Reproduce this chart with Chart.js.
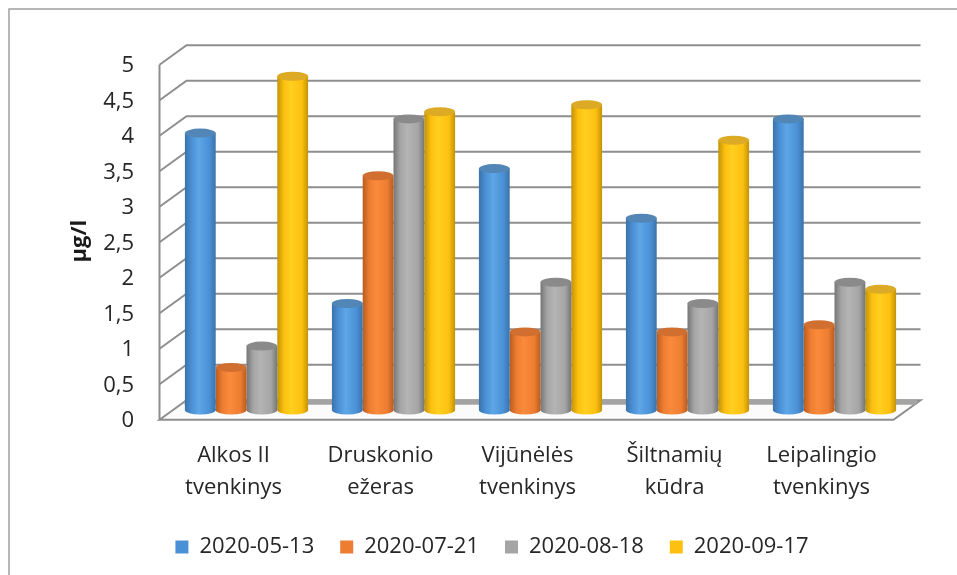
<!DOCTYPE html>
<html>
<head>
<meta charset="utf-8">
<title>µg/l</title>
<script src="https://cdn.jsdelivr.net/npm/chart.js@4/dist/chart.umd.min.js"></script>
<style>
  html, body { margin: 0; padding: 0; background: #fff; }
  canvas { display: block; }
</style>
</head>
<body>
<canvas id="chart" width="957" height="575"></canvas>
<script>
const categories = [
  ["Alkos II", "tvenkinys"],
  ["Druskonio", "ežeras"],
  ["Vijūnėlės", "tvenkinys"],
  ["Šiltnamių", "kūdra"],
  ["Leipalingio", "tvenkinys"],
];
const dates = ["2020-05-13", "2020-07-21", "2020-08-18", "2020-09-17"];
const series0513 = [3.9, 1.5, 3.4, 2.7, 4.1];
const series0721 = [0.6, 3.3, 1.1, 1.1, 1.2];
const series0818 = [0.9, 4.1, 1.8, 1.5, 1.8];
const series0917 = [4.7, 4.2, 4.3, 3.8, 1.7];
const allSeries = [series0513, series0721, series0818, series0917];

// edge / light / cap shades of each cylinder
const shades = [
  { main: "#4a90d6", edge: "#3c72a8", light: "#5ea6e6", cap: "#5286b6" },
  { main: "#ed7d31", edge: "#b85c20", light: "#fb8a3c", cap: "#d06f30" },
  { main: "#a5a5a5", edge: "#757575", light: "#b4b4b4", cap: "#8a8a8a" },
  { main: "#fdc010", edge: "#c29306", light: "#ffcf1f", cap: "#dcaa24" },
];

const depthX = 13.5;
const depthY = 9.75;
const wallColor = "#8e8e8e";
const fontFamily = "'Open Sans', Lato, sans-serif";

function cylinderFill(c, bx, half, i) {
  const g = c.createLinearGradient(bx - half, 0, bx + half, 0);
  g.addColorStop(0, shades[i].edge);
  g.addColorStop(0.22, shades[i].main);
  g.addColorStop(0.45, shades[i].light);
  g.addColorStop(0.8, shades[i].main);
  g.addColorStop(1, shades[i].edge);
  return g;
}

// frame, 3D-looking walls and floor, and the cylinder shading of the bars
const wallsPlugin = {
  id: "walls",
  afterLayout(chart) {
    // the legend sits right of the canvas centre in the original
    chart.legend.left += 22;
    chart.legend.right += 22;
  },
  beforeDraw(chart) {
    const c = chart.ctx;
    c.save();
    c.strokeStyle = "#a0a0a0";
    c.lineWidth = 1.5;
    c.beginPath();
    c.moveTo(9, 575);
    c.lineTo(9, 9);
    c.lineTo(957, 9);
    c.stroke();
    c.restore();
  },
  beforeDatasetsDraw(chart) {
    const c = chart.ctx;
    const { x, y } = chart.scales;
    const frontL = x.left - depthX, backL = x.left + depthX;
    const backR = x.right + depthX - 1, frontR = x.right - depthX - 1;
    c.save();
    c.strokeStyle = wallColor;
    c.lineWidth = 2;
    y.ticks.forEach((t) => {
      const py = y.getPixelForValue(t.value);
      if (t.value === 0) return;
      c.beginPath();
      c.moveTo(frontL, py + depthY);
      c.lineTo(backL, py - depthY);
      c.lineTo(backR, py - depthY);
      c.stroke();
    });
    const y0 = y.getPixelForValue(0);
    const y5 = y.getPixelForValue(5);
    c.beginPath();
    c.moveTo(frontL, y5 + depthY);
    c.lineTo(frontL, y0 + depthY);
    c.stroke();
    // floor
    c.fillStyle = "#fbfbfb";
    c.beginPath();
    c.moveTo(frontL, y0 + depthY);
    c.lineTo(backL, y0 - depthY);
    c.lineTo(backR, y0 - depthY);
    c.lineTo(frontR, y0 + depthY);
    c.closePath();
    c.fill();
    c.stroke();
    c.lineWidth = 5;
    c.strokeStyle = "#a3a3a3";
    c.beginPath();
    c.moveTo(backL - 2, y0 - depthY + 2);
    c.lineTo(backR - 4, y0 - depthY + 2);
    c.stroke();
    c.restore();
  },
  beforeDatasetDraw(chart, args) {
    const c = chart.ctx;
    const i = args.index;
    args.meta.data.forEach((bar) => {
      const half = bar.width / 2;
      bar.options = { ...bar.options, backgroundColor: cylinderFill(c, bar.x, half, i) };
      c.fillStyle = bar.options.backgroundColor;
      c.beginPath();
      c.ellipse(bar.x, bar.base, half, 4.5, 0, 0, Math.PI * 2);
      c.fill();
    });
  },
  afterDatasetDraw(chart, args) {
    const c = chart.ctx;
    c.save();
    args.meta.data.forEach((bar) => {
      c.fillStyle = shades[args.index].cap;
      c.beginPath();
      c.ellipse(bar.x, bar.y, bar.width / 2, 4.5, 0, 0, Math.PI * 2);
      c.fill();
    });
    c.restore();
  },
};

const chart = new Chart(document.getElementById("chart"), {
  type: "bar",
  plugins: [wallsPlugin],
  data: {
    labels: categories,
    datasets: allSeries.map((values, i) => ({
      label: dates[i],
      data: values,
      backgroundColor: shades[i].main,
      borderWidth: 0,
      categoryPercentage: 0.838,
      barPercentage: 1,
    })),
  },
  options: {
    responsive: false,
    animation: false,
    layout: { padding: { left: 32, top: 55, right: 49, bottom: 7 } },
    plugins: {
      tooltip: { enabled: false },
      legend: {
        position: "bottom",
        labels: {
          boxWidth: 13,
          boxHeight: 13,
          padding: 26,
          color: "#262626",
          font: { family: fontFamily, size: 22 },
        },
      },
    },
    scales: {
      x: {
        grid: { display: false },
        border: { display: false },
        afterFit(scale) { scale.height = 100; },
        ticks: {
          color: "#262626",
          maxRotation: 0,
          autoSkip: false,
          labelOffset: -13,
          padding: 22,
          font: { family: fontFamily, size: 22, lineHeight: 1.4545 },
        },
      },
      y: {
        min: 0,
        max: 5,
        afterFit(scale) { scale.width = 141; },
        grid: { display: false },
        border: { display: false },
        title: {
          display: true,
          text: "µg/l\u00a0\u00a0\u00a0",
          color: "#1a1a1a",
          font: { family: fontFamily, size: 22, weight: "bold" },
          padding: { top: 35, bottom: 0 },
        },
        ticks: {
          stepSize: 0.5,
          color: "#262626",
          padding: 31,
          labelOffset: 11,
          font: { family: fontFamily, size: 22 },
          callback: (v) => String(v).replace(".", ","),
        },
      },
    },
  },
});
</script>
</body>
</html>
